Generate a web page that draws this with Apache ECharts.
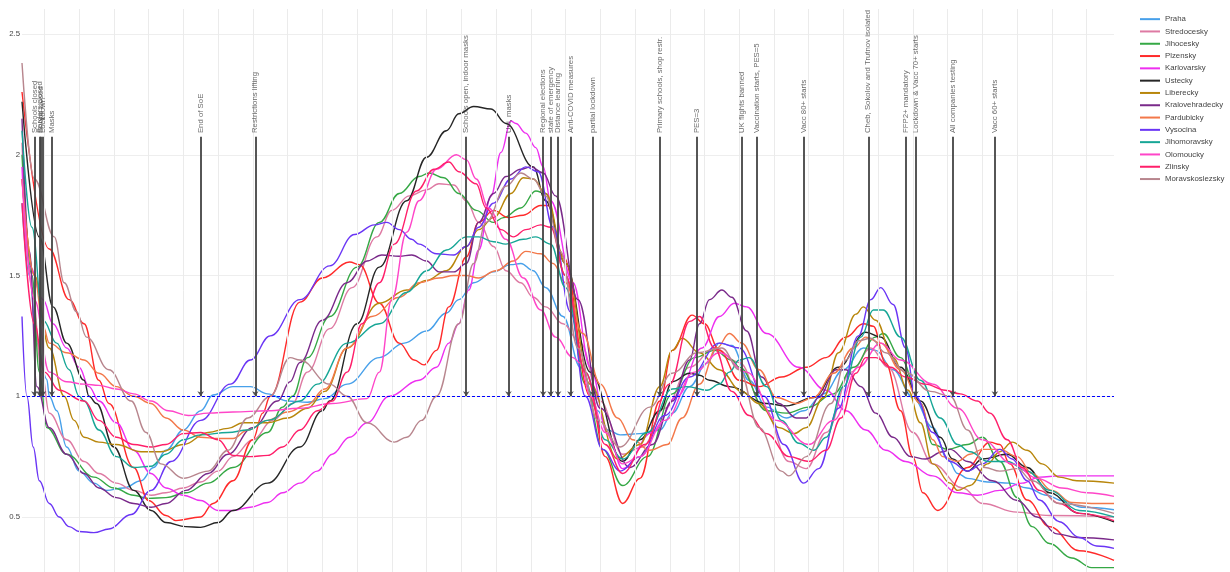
<!DOCTYPE html>
<html>
<head>
<meta charset="utf-8">
<script src="https://cdn.jsdelivr.net/npm/echarts@6/dist/echarts.min.js"></script>
<style>
  html, body { margin: 0; padding: 0; background: #ffffff; }
  #chart { width: 1230px; height: 572px; }
</style>
</head>
<body>
<div id="chart"></div>
<script>
// x: days counted from Sunday 2020-03-15, y: reproduction number R (smoothed)
const praha = [[-9,1.80],[-6,1.50],[-3,1.22],[1,1.07],[2,1.0],[5,0.94],[9,0.79],[14,0.69],[20,0.64],[25,0.61],[32,0.62],[39,0.65],[44,0.705],[49,0.776],[56,0.86],[63,0.94],[68,1.005],[76,1.04],[83,1.04],[90,1.01],[98,0.98],[106,0.975],[113,0.99],[122,1.05],[135,1.16],[145,1.22],[154,1.27],[162,1.345],[167,1.40],[173,1.47],[181,1.515],[188,1.545],[192,1.55],[197,1.52],[202,1.45],[209,1.33],[216,1.12],[223,0.94],[227,0.86],[232,0.84],[240,0.845],[248,0.86],[253,0.93],[260,1.04],[267,1.137],[272,1.22],[277,1.21],[284,1.066],[291,0.955],[299,0.91],[306,0.94],[314,1.01],[322,1.11],[330,1.20],[335,1.19],[342,1.11],[350,0.995],[358,0.87],[364,0.74],[368,0.68],[372,0.66],[380,0.645],[389,0.64],[396,0.62],[404,0.59],[410,0.568],[418,0.54],[431,0.53]];
const stredocesky = [[-9,2.05],[-5,1.45],[-1,1.10],[2,0.93],[9,0.82],[16,0.73],[22,0.68],[29,0.64],[36,0.61],[43,0.59],[49,0.60],[56,0.62],[63,0.645],[70,0.69],[76,0.75],[84,0.82],[92,0.90],[100,0.97],[106,1.10],[115,1.28],[124,1.45],[134,1.66],[140,1.77],[147,1.83],[154,1.855],[159,1.88],[165,1.875],[170,1.81],[175,1.72],[181,1.62],[186,1.52],[192,1.47],[197,1.41],[202,1.37],[209,1.30],[216,1.22],[224,0.98],[233,0.76],[241,0.79],[250,0.95],[260,1.12],[270,1.20],[280,1.14],[290,0.95],[300,0.73],[307,0.70],[315,0.85],[325,1.10],[333,1.20],[340,1.12],[350,0.85],[358,0.72],[370,0.62],[378,0.556],[392,0.52],[405,0.506],[431,0.50]];
const jihocesky = [[-9,2.0],[-5,1.5],[-2,1.1],[1,0.87],[9,0.76],[20,0.665],[28,0.62],[36,0.59],[42,0.577],[49,0.58],[57,0.60],[66,0.64],[76,0.705],[90,0.85],[96,0.955],[100,1.0],[106,1.16],[115,1.33],[126,1.535],[135,1.72],[143,1.84],[151,1.91],[155,1.925],[161,1.905],[167,1.84],[174,1.77],[181,1.72],[185,1.74],[192,1.78],[198,1.85],[202,1.84],[210,1.50],[218,1.05],[225,0.78],[233,0.63],[243,0.75],[253,1.01],[262,1.16],[270,1.19],[277,1.15],[280,1.12],[291,0.94],[299,0.93],[308,0.955],[318,1.01],[326,1.12],[335,1.245],[338,1.26],[345,1.16],[353,0.97],[358,0.80],[364,0.78],[372,0.80],[378,0.83],[385,0.73],[392,0.58],[398,0.46],[405,0.39],[414,0.33],[422,0.29],[431,0.29]];
const plzensky = [[-9,2.26],[2,1.61],[10,1.40],[16,1.30],[22,1.066],[26,0.97],[36,0.705],[42,0.568],[49,0.506],[53,0.485],[63,0.50],[68,0.556],[76,0.65],[84,0.82],[88,0.93],[91,1.0],[103,1.39],[112,1.49],[123,1.556],[127,1.545],[135,1.385],[143,1.22],[149,1.15],[153,1.13],[158,1.19],[163,1.37],[170,1.577],[175,1.72],[181,1.77],[187,1.74],[193,1.75],[200,1.79],[203,1.79],[209,1.58],[220,1.0],[226,0.75],[233,0.556],[240,0.66],[248,0.98],[253,1.19],[261,1.336],[266,1.30],[272,1.19],[280,1.066],[288,1.04],[297,1.08],[307,1.12],[315,1.16],[323,1.245],[330,1.30],[334,1.29],[339,1.137],[345,0.94],[350,0.747],[354,0.60],[360,0.527],[372,0.705],[381,0.81],[385,0.80],[389,0.72],[396,0.57],[405,0.46],[417,0.36],[431,0.32]];
const karlovarsky = [[-9,1.95],[-6,1.54],[-0.5,1.40],[3.5,1.30],[9,1.20],[14,1.12],[18,1.04],[22,0.98],[29,0.89],[36,0.776],[43,0.68],[49,0.62],[56,0.59],[63,0.568],[70,0.527],[76,0.527],[83,0.54],[90,0.56],[96,0.60],[103,0.64],[110,0.69],[116,0.76],[123,0.83],[130,0.89],[139,1.0],[151,1.066],[158,1.12],[163,1.22],[167,1.30],[171,1.44],[175,1.606],[180,1.83],[184,2.01],[188,2.14],[190,2.13],[194,2.09],[198,2.03],[201,1.95],[204,1.81],[213,1.47],[220,1.12],[227,0.845],[233,0.70],[245,0.85],[255,1.0],[265,1.2],[272,1.33],[278,1.385],[283,1.37],[291,1.26],[304,1.12],[315,1.025],[323,0.94],[331,0.86],[339,0.776],[347,0.73],[358,0.67],[368,0.60],[376,0.59],[385,0.61],[394,0.64],[401,0.665],[409,0.67],[431,0.67]];
const ustecky = [[-9,2.22],[-2,1.66],[3.5,1.37],[9,1.22],[16,1.066],[18,1.0],[21,0.97],[28,0.79],[36,0.61],[43,0.527],[49,0.477],[57,0.46],[63,0.457],[70,0.477],[76,0.527],[90,0.64],[103,0.79],[112,0.94],[115,0.98],[126,1.30],[135,1.535],[146,1.81],[154,1.99],[162,2.10],[167,2.17],[173,2.20],[180,2.19],[186,2.13],[197,1.95],[202,1.81],[210,1.55],[220,1.10],[233,0.73],[240,0.82],[248,0.94],[253,1.06],[260,1.095],[264,1.087],[268,1.066],[276,1.04],[291,0.97],[299,0.96],[310,0.995],[320,1.12],[331,1.265],[337,1.245],[345,1.12],[353,0.98],[361,0.83],[366,0.74],[372,0.69],[378,0.74],[388,0.76],[396,0.705],[405,0.60],[417,0.515],[431,0.48]];
const liberecky = [[-9,1.9],[-4,1.5],[2,1.2],[8,1.0],[12,0.9],[16,0.83],[22,0.81],[29,0.80],[39,0.77],[47,0.77],[56,0.80],[66,0.85],[74,0.867],[80,0.89],[90,0.89],[98,0.91],[106,0.95],[113,1.02],[122,1.20],[135,1.385],[146,1.44],[154,1.48],[162,1.52],[170,1.62],[175,1.69],[181,1.74],[188,1.84],[193,1.905],[197,1.90],[202,1.84],[210,1.55],[220,1.05],[231,0.74],[240,0.80],[248,1.04],[253,1.19],[257,1.24],[264,1.18],[272,1.11],[281,1.02],[288,0.97],[296,0.87],[302,0.845],[307,0.87],[314,0.995],[320,1.18],[327,1.34],[330,1.37],[335,1.315],[342,1.16],[348,1.025],[353,0.89],[358,0.72],[365,0.64],[368,0.61],[373,0.63],[380,0.72],[385,0.77],[390,0.81],[396,0.776],[402,0.72],[409,0.665],[416,0.65],[431,0.64]];
const kralovehradecky = [[-9,2.15],[-6,1.6],[-3,1.04],[2,0.87],[9,0.76],[16,0.68],[22,0.62],[29,0.58],[36,0.556],[43,0.54],[49,0.556],[57,0.61],[66,0.68],[74,0.76],[84,0.87],[94,0.98],[99,1.06],[103,1.14],[112,1.315],[122,1.47],[130,1.56],[136,1.585],[143,1.58],[148,1.585],[154,1.56],[159,1.515],[165,1.515],[170,1.55],[175,1.72],[181,1.84],[186,1.91],[192,1.94],[196,1.95],[201,1.925],[206,1.83],[215,1.40],[224,0.95],[236,0.705],[245,0.80],[253,0.98],[260,1.15],[264,1.30],[268,1.40],[273,1.44],[277,1.41],[283,1.27],[289,1.08],[296,0.97],[303,0.91],[307,0.91],[312,0.995],[319,1.11],[323,1.11],[329,1.04],[335,0.93],[342,0.83],[349,0.75],[355,0.74],[362,0.77],[365,0.78],[372,0.73],[382,0.65],[392,0.568],[400,0.50],[408,0.43],[416,0.415],[431,0.405]];
const pardubicky = [[-9,1.9],[-4,1.5],[-0.5,1.29],[2,1.22],[9,1.18],[16,1.15],[22,1.095],[29,1.04],[36,1.0],[43,0.97],[49,0.91],[56,0.86],[63,0.83],[70,0.825],[76,0.825],[82,0.86],[90,0.90],[98,0.935],[106,0.965],[113,1.03],[122,1.20],[132,1.33],[143,1.41],[151,1.47],[159,1.49],[165,1.50],[170,1.50],[175,1.49],[182,1.52],[189,1.56],[194,1.60],[200,1.59],[205,1.55],[210,1.47],[217,1.26],[224,1.05],[231,0.91],[237,0.82],[244,0.776],[251,0.80],[257,0.91],[264,1.05],[271,1.20],[276,1.26],[281,1.22],[288,1.11],[295,0.995],[303,0.97],[310,0.995],[318,1.095],[326,1.20],[331,1.245],[337,1.22],[345,1.11],[353,0.97],[358,0.82],[362,0.75],[368,0.73],[373,0.76],[378,0.78],[385,0.78],[392,0.75],[398,0.68],[406,0.61],[414,0.56],[422,0.556],[431,0.556]];
const vysocina = [[-9,1.33],[-7,1.0],[-4.5,0.79],[-2,0.65],[2,0.556],[6,0.50],[10,0.46],[14,0.44],[20,0.435],[26,0.45],[35,0.51],[43,0.61],[51,0.73],[63,0.90],[75,1.05],[83,1.15],[91,1.25],[103,1.40],[115,1.54],[125,1.67],[133,1.71],[138,1.72],[143,1.69],[148,1.65],[151,1.63],[158,1.59],[165,1.585],[170,1.62],[175,1.70],[181,1.80],[188,1.90],[194,1.95],[199,1.93],[205,1.70],[212,1.35],[218,1.0],[225,0.78],[232,0.69],[240,0.75],[250,0.92],[260,1.08],[272,1.22],[280,1.20],[290,1.0],[298,0.80],[306,0.64],[312,0.70],[320,0.95],[328,1.25],[333,1.40],[337,1.45],[342,1.38],[347,1.20],[351,1.0],[358,0.85],[365,0.73],[372,0.69],[378,0.72],[385,0.78],[390,0.74],[396,0.65],[401,0.57],[409,0.48],[417,0.415],[424,0.38],[431,0.37]];
const jihomoravsky = [[-9,2.1],[-5,1.7],[-0.5,1.315],[5,1.22],[10,1.11],[14,1.0],[16,0.98],[22,0.86],[29,0.75],[36,0.705],[43,0.71],[49,0.76],[56,0.82],[63,0.84],[74,0.85],[82,0.86],[90,0.90],[103,0.98],[110,1.05],[122,1.22],[135,1.30],[146,1.43],[154,1.52],[162,1.606],[170,1.66],[175,1.66],[181,1.64],[186,1.63],[193,1.65],[198,1.66],[204,1.63],[210,1.45],[218,1.10],[226,0.82],[233,0.74],[243,0.85],[253,1.03],[259,1.04],[267,1.025],[272,1.05],[276,1.10],[280,1.15],[284,1.16],[291,1.04],[297,0.90],[304,0.805],[310,0.776],[315,0.83],[322,1.04],[329,1.245],[334,1.357],[338,1.357],[345,1.245],[353,1.066],[361,0.91],[368,0.80],[373,0.77],[380,0.73],[388,0.73],[396,0.69],[405,0.61],[417,0.527],[431,0.50]];
const olomoucky = [[-9,1.9],[-4,1.4],[2,1.1],[9,1.06],[16,1.05],[22,1.045],[29,1.03],[36,1.01],[43,0.98],[50,0.94],[58,0.92],[66,0.93],[76,0.935],[90,0.94],[103,0.95],[116,0.97],[130,0.99],[135,1.1],[140,1.4],[146,1.68],[151,1.81],[158,1.94],[166,2.0],[170,1.98],[174,1.90],[179,1.78],[186,1.65],[193,1.49],[200,1.357],[206,1.245],[213,1.16],[216,1.137],[220,1.0],[226,0.85],[233,0.72],[240,0.75],[250,0.9],[262,1.1],[272,1.18],[283,1.1],[295,0.9],[308,0.80],[318,0.9],[328,1.12],[337,1.22],[345,1.15],[358,1.05],[368,0.95],[378,0.82],[390,0.72],[400,0.66],[410,0.62],[420,0.60],[431,0.585]];
const zlinsky = [[-9,1.8],[-4,1.3],[0,1.1],[6,1.025],[16,0.98],[22,0.90],[29,0.83],[36,0.80],[43,0.79],[49,0.80],[56,0.845],[63,0.85],[70,0.82],[76,0.755],[83,0.75],[90,0.755],[96,0.79],[103,0.86],[110,0.94],[116,0.98],[122,1.1],[128,1.30],[135,1.47],[141,1.63],[150,1.85],[157,1.94],[163,1.97],[167,1.93],[174,1.88],[178,1.78],[184,1.69],[189,1.66],[194,1.69],[200,1.71],[204,1.70],[210,1.50],[218,1.10],[226,0.80],[233,0.68],[242,0.80],[252,1.05],[260,1.31],[264,1.33],[270,1.20],[277,1.02],[284,0.92],[291,0.845],[300,0.75],[308,0.73],[315,0.776],[321,0.91],[327,1.095],[331,1.16],[335,1.16],[341,1.12],[347,1.08],[355,1.05],[363,1.025],[369,1.01],[376,0.98],[381,0.93],[388,0.82],[394,0.705],[401,0.61],[409,0.556],[417,0.515],[431,0.485]];
const moravskoslezsky = [[-9,2.38],[-4,1.9],[4,1.66],[8,1.47],[13,1.35],[17,1.245],[26,1.11],[35,0.98],[41,0.85],[47,0.72],[56,0.66],[66,0.69],[74,0.776],[82,0.91],[91,1.0],[99,1.16],[103,1.15],[115,1.05],[122,1.0],[130,0.89],[141,0.81],[146,0.83],[152,0.9],[158,1.0],[167,1.30],[173,1.55],[178,1.72],[186,1.87],[192,1.925],[197,1.90],[202,1.83],[208,1.60],[215,1.20],[223,0.90],[232,0.79],[244,0.955],[253,1.095],[263,1.18],[273,1.20],[280,1.11],[288,0.87],[297,0.69],[300,0.67],[307,0.75],[317,0.97],[323,1.15],[328,1.23],[333,1.24],[339,1.18],[347,1.10],[357,1.02],[365,1.0],[372,0.86],[379,0.705],[385,0.69],[392,0.70],[398,0.65],[409,0.556],[431,0.515]];

const regionNames = ['Praha', 'Stredocesky', 'Jihocesky', 'Plzensky', 'Karlovarsky', 'Ustecky', 'Liberecky', 'Kralovehradecky', 'Pardubicky', 'Vysocina', 'Jihomoravsky', 'Olomoucky', 'Zlinsky', 'Moravskoslezsky'];
const regionData = [praha, stredocesky, jihocesky, plzensky, karlovarsky, ustecky, liberecky, kralovehradecky, pardubicky, vysocina, jihomoravsky, olomoucky, zlinsky, moravskoslezsky];
const regionColors = ['#47a0ea', '#de7aa3', '#35a845', '#ff2a2a', '#ee2ff0', '#262626', '#b8860b', '#7a2a8a', '#f3784a', '#6a35f5', '#17a696', '#ff45c8', '#ff1f6a', '#b8868e'];

// measures and milestones, marked by arrows down to R = 1
const eventDays = [-4, -2, -1.3, -0.6, 3, 63, 85, 170, 187, 201, 204, 207, 212, 221, 248, 263, 281, 287, 306, 332, 347, 351, 366, 383];
const eventLabels = ['Schools closed', 'Borders closed', 'Shops closed', 'Lockdown', 'Masks', 'End of SoE', 'Restrictions lifting', 'Schools open, indoor masks', 'Uni, masks', 'Regional elections', 'state of emergency', 'Distance learning', 'Anti-COVID measures', 'partial lockdown', 'Primary schools, shop restr.', 'PES=3', 'UK flights banned', 'Vaccination starts, PES=5', 'Vacc 80+ starts', 'Cheb, Sokolov and Trutnov isolated', 'FFP2+ mandatory', 'Lockdown & Vacc 70+ starts', 'All companies testing', 'Vacc 60+ starts'];

// vertical grid every two weeks (Sundays)
const gridDays = [0, 14, 28, 42, 56, 70, 84, 98, 112, 126, 140, 154, 168, 182, 196, 210, 224, 238, 252, 266, 280, 294, 308, 322, 336, 350, 364, 378, 392, 406, 420];

const DAY_FIRST = -9, DAY_LAST = 431;
const R_MIN = 0.272, R_MAX = 2.604;
const ARROW_TOP = 2.075, LABEL_BASE = 2.09, THRESHOLD = 1;
const FONT = 'Liberation Sans, Arial, sans-serif';

const chart = echarts.init(document.getElementById('chart'), null, { renderer: 'canvas' });

const lineSeries = regionNames.map((name, i) => ({
  name: name,
  type: 'line',
  data: regionData[i],
  smooth: 0.4,
  smoothMonotone: 'x',
  symbol: 'none',
  showSymbol: false,
  silent: true,
  z: 3,
  lineStyle: { width: 1.4, color: regionColors[i] },
  itemStyle: { color: regionColors[i] }
}));

const gridSeries = {
  name: 'grid',
  type: 'line',
  data: [],
  silent: true,
  z: 1,
  markLine: {
    silent: true,
    animation: false,
    symbol: ['none', 'none'],
    label: { show: false },
    lineStyle: { color: '#ebebeb', width: 1, type: 'solid' },
    data: gridDays.map(d => ({ xAxis: d }))
  }
};

const thresholdSeries = {
  name: 'threshold',
  type: 'line',
  data: [],
  silent: true,
  z: 5,
  markLine: {
    silent: true,
    animation: false,
    symbol: ['none', 'none'],
    label: { show: false },
    lineStyle: { color: '#0000ff', width: 1, type: [3, 2], opacity: 1 },
    data: [[{ coord: [DAY_FIRST, THRESHOLD] }, { coord: [DAY_LAST, THRESHOLD] }]]
  }
};

const eventSeries = {
  name: 'events',
  type: 'scatter',
  data: eventDays.map(d => [d, LABEL_BASE]),
  symbolSize: 1,
  silent: true,
  z: 6,
  itemStyle: { color: 'rgba(0,0,0,0)' },
  label: {
    show: true,
    formatter: p => eventLabels[p.dataIndex],
    position: 'inside',
    rotate: 90,
    align: 'left',
    verticalAlign: 'middle',
    color: '#444',
    fontSize: 7.8,
    fontFamily: FONT
  },
  markLine: {
    silent: true,
    animation: false,
    symbol: ['none', 'arrow'],
    symbolSize: 5,
    label: { show: false },
    lineStyle: { color: '#444', width: 2, type: 'solid', opacity: 0.9 },
    data: eventDays.map(d => [{ coord: [d, ARROW_TOP] }, { coord: [d, THRESHOLD] }])
  }
};

chart.setOption({
  animation: false,
  backgroundColor: '#ffffff',
  textStyle: { fontFamily: FONT },
  grid: { left: 22, right: 116, top: 9, bottom: 0, containLabel: false },
  xAxis: {
    type: 'value',
    min: DAY_FIRST,
    max: DAY_LAST,
    axisLine: { show: false },
    axisTick: { show: false },
    axisLabel: { show: false },
    splitLine: { show: false }
  },
  yAxis: {
    type: 'value',
    min: R_MIN,
    max: R_MAX,
    splitNumber: 5,
    axisLine: { show: false },
    axisTick: { show: false },
    axisLabel: {
      color: '#444', fontSize: 7.8, fontFamily: FONT, margin: 2,
      showMinLabel: false, showMaxLabel: false
    },
    splitLine: {
      show: true, showMinLine: false, showMaxLine: false,
      lineStyle: { color: '#eeeeee', width: 1 }
    }
  },
  legend: {
    data: regionNames,
    orient: 'vertical',
    left: 1140,
    top: 13,
    padding: 0,
    itemGap: 0,
    itemWidth: 20,
    itemHeight: 2,
    icon: 'rect',
    textStyle: { color: '#444', fontSize: 7.8, fontFamily: FONT, lineHeight: 12.3 }
  },
  series: [gridSeries].concat(lineSeries, [thresholdSeries, eventSeries])
});
</script>
</body>
</html>
